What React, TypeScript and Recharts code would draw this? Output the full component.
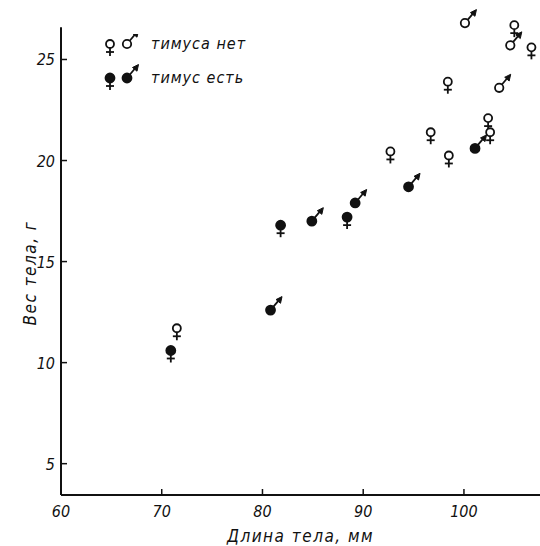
import { ScatterChart, Scatter, XAxis, YAxis, ReferenceLine } from 'recharts'

// body length (mm) and body weight (g)
const openFemaleLen = [71.5, 92.7, 96.7, 98.4, 98.5, 102.4, 102.6, 105.0, 106.7]
const openFemaleWt = [11.7, 20.45, 21.4, 23.9, 20.25, 22.1, 21.4, 26.7, 25.6]
const openMaleLen = [100.1, 104.6, 103.5]
const openMaleWt = [26.8, 25.7, 23.6]
const fullFemaleLen = [70.9, 81.8, 88.4]
const fullFemaleWt = [10.6, 16.8, 17.2]
const fullMaleLen = [80.8, 84.9, 89.2, 94.5, 101.1]
const fullMaleWt = [12.6, 17.0, 17.9, 18.7, 20.6]

const xTicks = [60, 70, 80, 90, 100]
const yTicks = [5, 10, 15, 20, 25]
const legendRows = ['тимуса нет', 'тимус есть']

const X_MIN = 60
const X_MAX = 107.55
const Y_MIN = 3.45
const Y_MAX = 27.3
const Y_AXIS_TOP = 26.6

const zip = (xs: number[], ys: number[]) => xs.map((x, i) => ({ x, y: ys[i] }))

const INK = '#111'
const FONT = '"DejaVu Sans Condensed", "DejaVu Sans", sans-serif'

function Female({ cx, cy, filled }: { cx: number; cy: number; filled?: boolean }) {
  const r = filled ? 4.5 : 4
  return (
    <g stroke={INK} strokeWidth={1.8}>
      <circle cx={cx} cy={cy} r={r} fill={filled ? INK : '#fff'} />
      <line x1={cx} y1={cy + r} x2={cx} y2={cy + 12} />
      <line x1={cx - 4} y1={cy + 8} x2={cx + 4} y2={cy + 8} />
    </g>
  )
}

function Male({ cx, cy, filled }: { cx: number; cy: number; filled?: boolean }) {
  const r = filled ? 4.5 : 4.2
  return (
    <g stroke={INK} strokeWidth={1.8}>
      <line x1={cx + 2.5} y1={cy - 3} x2={cx + 8} y2={cy - 9.5} />
      <polygon
        points={`${cx + 11.5},${cy - 13.5} ${cx + 10},${cy - 6.8} ${cx + 5.5},${cy - 10.5}`}
        fill={INK}
        strokeWidth={1}
      />
      <circle cx={cx} cy={cy} r={r} fill={filled ? INK : '#fff'} />
    </g>
  )
}

function YTick(props: any) {
  const { x, y, payload } = props
  return (
    <g>
      <line x1={x} y1={y} x2={x + 6} y2={y} stroke={INK} strokeWidth={1.5} />
      <text x={x - 6} y={y + 6} textAnchor="end" fontFamily={FONT} fontStyle="italic" fontSize={16} fill={INK}>
        {payload.value}
      </text>
    </g>
  )
}

function XTick(props: any) {
  const { x, y, payload } = props
  return (
    <g>
      <line x1={x} y1={y} x2={x} y2={y - 6} stroke={INK} strokeWidth={1.5} />
      <text x={x} y={y + 22} textAnchor="middle" fontFamily={FONT} fontStyle="italic" fontSize={16} fill={INK}>
        {payload.value}
      </text>
    </g>
  )
}

function YLabel(props: any) {
  const { viewBox } = props
  const cx = viewBox.x - 31
  const cy = viewBox.y + viewBox.height / 2 + 12
  return (
    <text
      x={cx}
      y={cy}
      transform={`rotate(-90, ${cx}, ${cy})`}
      textAnchor="middle"
      dominantBaseline="central"
      fontFamily={FONT}
      fontStyle="italic"
      fontSize={17}
      letterSpacing={1.5}
      fill={INK}
    >
      Вес  тела, г
    </text>
  )
}

function LegendBox() {
  return (
    <svg width={170} height={60} style={{ display: 'block' }}>
      {legendRows.map((label, i) => {
        const cy = 10 + i * 34
        return (
          <g key={label}>
            <Female cx={10} cy={cy} filled={i === 1} />
            <Male cx={27} cy={cy} filled={i === 1} />
            <text x={51} y={cy + 5} fontFamily={FONT} fontStyle="italic" fontSize={16} letterSpacing={1} fill={INK}>
              {label}
            </text>
          </g>
        )
      })}
    </svg>
  )
}

export default function App() {
  return (
    <div style={{ position: 'absolute', left: 0, top: 0, width: 540, height: 546, background: '#fff' }}>
      <ScatterChart width={540} height={546} margin={{ top: 13, right: 0, bottom: 0, left: 0 }}>
        <XAxis
          type="number"
          dataKey="x"
          domain={[X_MIN, X_MAX]}
          ticks={xTicks}
          tick={<XTick />}
          tickLine={false}
          tickSize={0}
          tickMargin={0}
          axisLine={{ stroke: INK, strokeWidth: 2 }}
          height={51}
          label={{
            value: 'Длина   тела, мм',
            position: 'insideBottom',
            offset: 4,
            fontFamily: FONT,
            fontStyle: 'italic',
            fontSize: 17,
            fill: INK,
            letterSpacing: 1.5,
          }}
        />
        <YAxis
          type="number"
          dataKey="y"
          domain={[Y_MIN, Y_MAX]}
          ticks={yTicks}
          tick={<YTick />}
          tickLine={false}
          tickSize={0}
          tickMargin={0}
          axisLine={false}
          width={61}
        />
        <ReferenceLine
          segment={[
            { x: X_MIN, y: Y_MIN },
            { x: X_MIN, y: Y_AXIS_TOP },
          ]}
          stroke={INK}
          strokeWidth={2}
          label={<YLabel />}
        />
        <Scatter
          name="openFemale"
          data={zip(openFemaleLen, openFemaleWt)}
          isAnimationActive={false}
          shape={(p: any) => <Female cx={p.cx} cy={p.cy} />}
        />
        <Scatter
          name="openMale"
          data={zip(openMaleLen, openMaleWt)}
          isAnimationActive={false}
          shape={(p: any) => <Male cx={p.cx} cy={p.cy} />}
        />
        <Scatter
          name="fullFemale"
          data={zip(fullFemaleLen, fullFemaleWt)}
          isAnimationActive={false}
          shape={(p: any) => <Female cx={p.cx} cy={p.cy} filled />}
        />
        <Scatter
          name="fullMale"
          data={zip(fullMaleLen, fullMaleWt)}
          isAnimationActive={false}
          shape={(p: any) => <Male cx={p.cx} cy={p.cy} filled />}
        />
      </ScatterChart>
      <div style={{ position: 'absolute', left: 100, top: 34 }}>
        <LegendBox />
      </div>
    </div>
  )
}
